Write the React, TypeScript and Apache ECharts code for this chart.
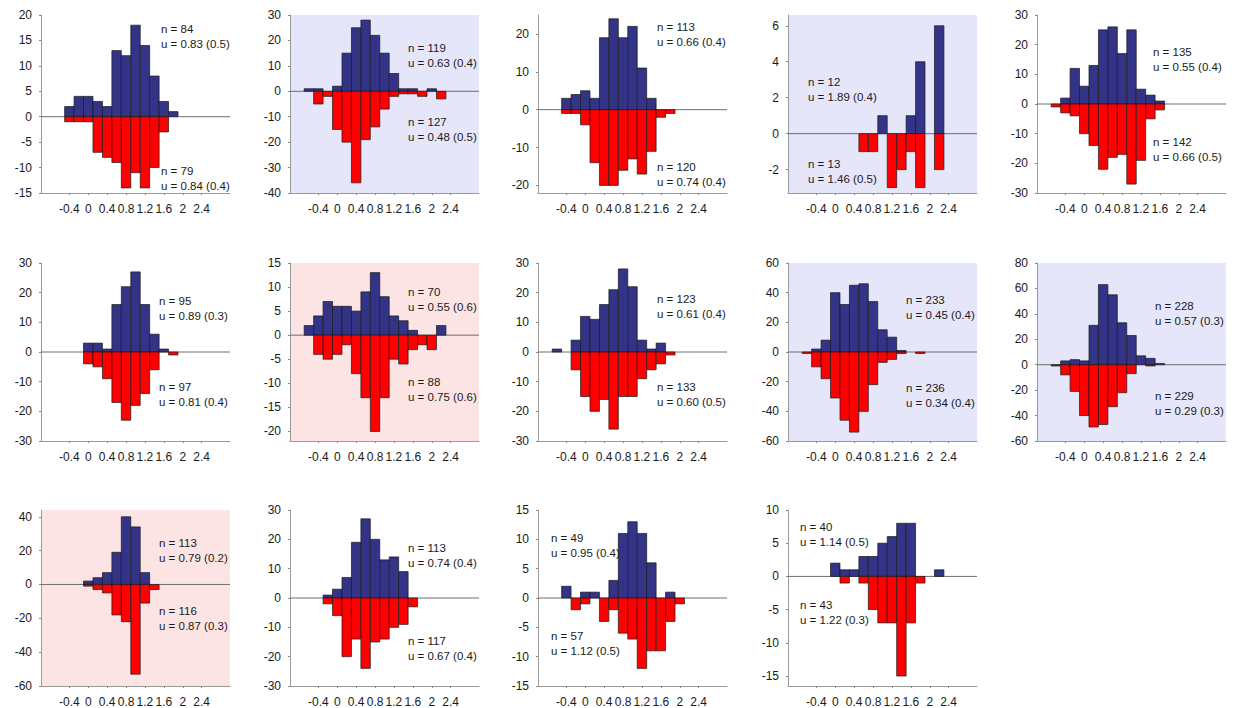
import React, { useEffect, useRef } from "react";
import * as echarts from "echarts";

// Bin centres of every histogram (bin width 0.2)
const BINS = [-0.6, -0.4, -0.2, 0, 0.2, 0.4, 0.6, 0.8, 1.0, 1.2, 1.4, 1.6, 1.8, 2.0, 2.2, 2.4];
const X_TICKS = [-0.4, 0, 0.4, 0.8, 1.2, 1.6, 2, 2.4];

// Upper (blue) histograms, one per panel
const BLUE_COUNTS = [
  [0, 2, 4, 4, 3, 2, 13, 12, 18, 14, 8, 3, 1, 0, 0, 0],
  [1, 1, 0, 2, 15, 25, 28, 22, 15, 7, 1, 1, 0, 1, 0, 0],
  [0, 3, 4, 5, 3, 19, 24, 19, 22, 11, 3, 0, 0, 0, 0, 0],
  [0, 0, 0, 0, 0, 0, 0, 0, 1, 0, 0, 1, 4, 0, 6, 0],
  [0, 2, 12, 6, 13, 25, 26, 17, 25, 5, 3, 1, 0, 0, 0, 0],
  [0, 0, 0, 3, 3, 1, 16, 22, 27, 16, 6, 1, 0, 0, 0, 0],
  [2, 4, 7, 6, 6, 5, 9, 13, 8, 4, 3, 1, 0, 0, 2, 0],
  [1, 0, 4, 12, 11, 16, 21, 28, 22, 4, 1, 3, 0, 0, 0, 0],
  [0, 2, 8, 40, 32, 45, 46, 34, 15, 10, 1, 0, 0, 0, 0, 0],
  [0, 3, 4, 3, 31, 63, 55, 33, 23, 7, 5, 1, 0, 0, 0, 0],
  [0, 0, 0, 2, 4, 7, 19, 40, 34, 7, 0, 0, 0, 0, 0, 0],
  [0, 0, 1, 3, 7, 19, 27, 20, 13, 14, 9, 0, 0, 0, 0, 0],
  [0, 2, 0, 1, 1, 0, 3, 11, 13, 11, 6, 0, 1, 0, 0, 0],
  [0, 0, 0, 2, 1, 1, 3, 3, 5, 6, 8, 8, 0, 0, 1, 0],
];

// Lower (red) histograms, drawn downwards
const RED_COUNTS = [
  [0, 1, 1, 1, 7, 8, 9, 14, 11, 14, 10, 3, 0, 0, 0, 0],
  [0, 5, 2, 15, 20, 36, 19, 14, 7, 2, 1, 1, 2, 0, 3, 0],
  [0, 1, 1, 4, 14, 20, 20, 16, 13, 17, 11, 2, 1, 0, 0, 0],
  [0, 0, 0, 0, 0, 0, 1, 1, 0, 3, 2, 1, 3, 0, 2, 0],
  [1, 3, 4, 10, 14, 22, 18, 17, 27, 19, 5, 2, 0, 0, 0, 0],
  [0, 0, 0, 4, 5, 9, 17, 23, 18, 14, 6, 0, 1, 0, 0, 0],
  [0, 4, 5, 4, 2, 8, 13, 20, 13, 5, 6, 3, 2, 3, 0, 0],
  [0, 0, 6, 15, 20, 16, 26, 15, 15, 9, 6, 4, 1, 0, 0, 0],
  [1, 10, 18, 31, 46, 54, 40, 22, 7, 5, 1, 0, 1, 0, 0, 0],
  [1, 8, 21, 40, 49, 47, 33, 22, 7, 0, 1, 0, 0, 0, 0, 0],
  [0, 0, 0, 1, 3, 5, 18, 22, 53, 11, 3, 0, 0, 0, 0, 0],
  [0, 0, 2, 6, 20, 14, 24, 15, 14, 10, 9, 3, 0, 0, 0, 0],
  [0, 0, 2, 1, 0, 4, 2, 6, 7, 12, 9, 9, 4, 1, 0, 0],
  [0, 0, 0, 0, 1, 0, 1, 5, 7, 7, 15, 7, 1, 0, 0, 0],
];

const N_BLUE = [84, 119, 113, 12, 135, 95, 70, 123, 233, 228, 113, 113, 49, 40];
const U_BLUE = [0.83, 0.63, 0.66, 1.89, 0.55, 0.89, 0.55, 0.61, 0.45, 0.57, 0.79, 0.74, 0.95, 1.14];
const SD_BLUE = [0.5, 0.4, 0.4, 0.4, 0.4, 0.3, 0.6, 0.4, 0.4, 0.3, 0.2, 0.4, 0.4, 0.5];
const N_RED = [79, 127, 120, 13, 142, 97, 88, 133, 236, 229, 116, 117, 57, 43];
const U_RED = [0.84, 0.48, 0.74, 1.46, 0.66, 0.81, 0.75, 0.6, 0.34, 0.29, 0.87, 0.67, 1.12, 1.22];
const SD_RED = [0.4, 0.5, 0.4, 0.5, 0.5, 0.4, 0.6, 0.5, 0.4, 0.3, 0.3, 0.4, 0.5, 0.3];

const Y_MIN = [-15, -40, -22, -3.3, -30, -30, -22, -30, -60, -60, -60, -30, -15, -16.5];
const Y_MAX = [20, 30, 25, 6.6, 30, 30, 15, 30, 60, 80, 44, 30, 15, 10];
const Y_TICKS = [
  [-15, -10, -5, 0, 5, 10, 15, 20],
  [-40, -30, -20, -10, 0, 10, 20, 30],
  [-20, -10, 0, 10, 20],
  [-2, 0, 2, 4, 6],
  [-30, -20, -10, 0, 10, 20, 30],
  [-30, -20, -10, 0, 10, 20, 30],
  [-20, -15, -10, -5, 0, 5, 10, 15],
  [-30, -20, -10, 0, 10, 20, 30],
  [-60, -40, -20, 0, 20, 40, 60],
  [-60, -40, -20, 0, 20, 40, 60, 80],
  [-60, -40, -20, 0, 20, 40],
  [-30, -20, -10, 0, 10, 20, 30],
  [-15, -10, -5, 0, 5, 10, 15],
  [-15, -10, -5, 0, 5, 10],
];

const SHADE = ["", "blue", "", "blue", "", "", "pink", "", "blue", "blue", "pink", "", "", ""];

// Layout (pixels)
const COL_LEFT = [41, 290, 538, 788, 1037];
const ROW_TOP = [15, 263, 510];
const PANEL_W = 189;
const PANEL_H = 178;
// [x, centre y of top block first line, centre y of bottom block first line]
const TEXT_POS = [
  [161, 29, 171],
  [408, 48, 122],
  [657, 27, 167],
  [808, 82, 164],
  [1153, 52, 142],
  [159, 301, 387],
  [408, 292, 382],
  [657, 299, 387],
  [906, 300, 388],
  [1155, 306, 396],
  [159, 543, 611],
  [408, 548, 641],
  [551, 538, 636],
  [800, 527, 605],
];

const BLUE = "#333388";
const RED = "#ff0000";
const BG = { blue: "#e6e6fa", pink: "#fde4e4" } as Record<string, string>;
const FONT = "Liberation Sans, Arial, Helvetica, sans-serif";

function fmtTick(v: number) {
  return String(parseFloat(Number(v).toFixed(2)));
}

export default function App() {
  const ref = useRef<HTMLDivElement>(null);
  useEffect(() => {
    if (!ref.current) return;
    const chart = echarts.init(ref.current, undefined, { renderer: "svg" });
    const grid: any[] = [];
    const xAxis: any[] = [];
    const yAxis: any[] = [];
    const series: any[] = [];
    const graphic: any[] = [];

    const makeRender = (color: string) => (params: any, api: any) => {
      const x = api.value(0);
      const v = api.value(1);
      if (!v) return null;
      const p0 = api.coord([x - 0.1, v]);
      const p1 = api.coord([x + 0.1, 0]);
      return {
        type: "rect",
        shape: {
          x: p0[0],
          y: Math.min(p0[1], p1[1]),
          width: p1[0] - p0[0],
          height: Math.abs(p1[1] - p0[1]),
        },
        style: { fill: color, stroke: "#1a1a1a", lineWidth: 0.7 },
      };
    };

    for (let i = 0; i < 14; i++) {
      const col = i % 5;
      const row = Math.floor(i / 5);
      const shade = SHADE[i];
      grid.push({
        left: COL_LEFT[col],
        top: ROW_TOP[row],
        width: PANEL_W,
        height: PANEL_H,
        show: !!shade,
        backgroundColor: shade ? BG[shade] : "transparent",
        borderWidth: 0,
      });
      xAxis.push({
        type: "value",
        gridIndex: i,
        min: -1,
        max: 3,
        axisLine: { show: true, onZero: false, lineStyle: { color: "#9a9a9a", width: 1 } },
        axisTick: { show: true, customValues: X_TICKS, length: 2, lineStyle: { color: "#888" } },
        axisLabel: {
          customValues: X_TICKS,
          formatter: fmtTick,
          color: "#1a1a1a",
          fontSize: 12,
          fontFamily: FONT,
          margin: 10,
        },
        splitLine: { show: false },
      });
      yAxis.push({
        type: "value",
        gridIndex: i,
        min: Y_MIN[i],
        max: Y_MAX[i],
        axisLine: { show: true, onZero: false, lineStyle: { color: "#9a9a9a", width: 1 } },
        axisTick: { show: true, customValues: Y_TICKS[i], length: 2, lineStyle: { color: "#888" } },
        axisLabel: {
          customValues: Y_TICKS[i],
          formatter: fmtTick,
          color: "#1a1a1a",
          fontSize: 12,
          fontFamily: FONT,
          margin: 9,
        },
        splitLine: { show: false },
      });
      series.push({
        type: "line",
        xAxisIndex: i,
        yAxisIndex: i,
        data: [[-1, 0], [3, 0]],
        symbol: "none",
        silent: true,
        lineStyle: { color: "#6e6e6e", width: 1 },
        z: 1,
      });
      series.push({
        type: "custom",
        xAxisIndex: i,
        yAxisIndex: i,
        renderItem: makeRender(BLUE),
        data: BINS.map((b, k) => [b, BLUE_COUNTS[i][k]]),
        z: 2,
      });
      series.push({
        type: "custom",
        xAxisIndex: i,
        yAxisIndex: i,
        renderItem: makeRender(RED),
        data: BINS.map((b, k) => [b, -RED_COUNTS[i][k]]),
        z: 2,
      });

      const [tx, ty1, ty2] = TEXT_POS[i];
      const lines = [
        [ty1, `n = ${N_BLUE[i]}`],
        [ty1 + 14.5, `u = ${U_BLUE[i].toFixed(2)} (${SD_BLUE[i].toFixed(1)})`],
        [ty2, `n = ${N_RED[i]}`],
        [ty2 + 14.5, `u = ${U_RED[i].toFixed(2)} (${SD_RED[i].toFixed(1)})`],
      ] as [number, string][];
      for (const [yy, t] of lines) {
        graphic.push({
          type: "text",
          x: tx,
          y: yy,
          z: 100,
          style: {
            text: t,
            fill: "#1a1a1a",
            font: `11.5px ${FONT}`,
            align: "left",
            verticalAlign: "middle",
          },
        });
      }
    }

    chart.setOption({
      animation: false,
      backgroundColor: "#ffffff",
      grid,
      xAxis,
      yAxis,
      series,
      graphic,
    });
    return () => chart.dispose();
  }, []);
  return (
    <div
      ref={ref}
      style={{ position: "absolute", left: 0, top: 0, width: 1236, height: 708 }}
    />
  );
}
